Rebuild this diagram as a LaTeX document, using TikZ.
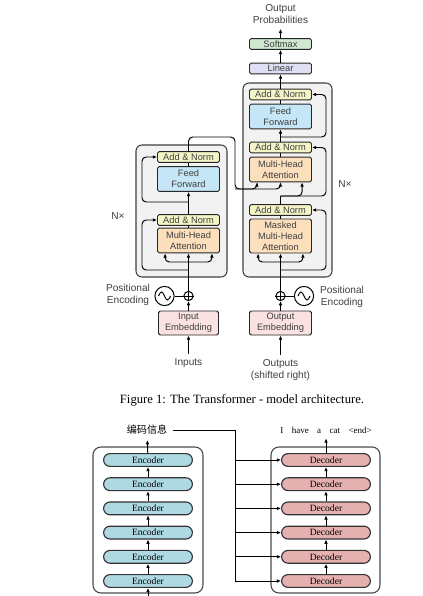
\documentclass[tikz,border=0pt]{standalone}
\usepackage{fontspec}
\setmainfont{Liberation Serif}
\setsansfont{Liberation Sans}
\newfontfamily\cjk{Noto Sans CJK SC}
\usetikzlibrary{arrows.meta,positioning}
\definecolor{bg}{HTML}{F2F2F2}
\definecolor{addc}{HTML}{F4F5C6}
\definecolor{ffc}{HTML}{C5E6F6}
\definecolor{attc}{HTML}{FCE0BD}
\definecolor{embc}{HTML}{FBE2E2}
\definecolor{linc}{HTML}{DEDFF2}
\definecolor{smc}{HTML}{CFE8CF}
\definecolor{encc}{HTML}{AED9E3}
\definecolor{decc}{HTML}{E5B0B0}

\begin{document}
\begin{tikzpicture}[x=.25mm,y=-.25mm,>={Latex[length=3pt,width=2.6pt]},line width=.7pt,
  blk/.style={draw=black!75,fill=bg,rounded corners=1.5mm,line width=.75pt},
  b/.style={draw=black!85,rounded corners=1.2pt,minimum width=15.5mm,minimum height=2.7mm,inner sep=0pt,align=center,font=\sffamily\fontsize{6.6}{7.6}\selectfont,text=black!75},
  an/.style={b,fill=addc},
  ff/.style={b,fill=ffc,minimum height=6.2mm},
  att/.style={b,fill=attc,minimum height=6.2mm},
  emb/.style={b,fill=embc,minimum height=6mm},
  lab/.style={align=center,font=\sffamily\fontsize{7.2}{8.6}\selectfont,text=black!75},
  pl/.style={draw,circle,minimum size=2.3mm,inner sep=0pt},
  wav/.style={draw,circle,minimum size=4.8mm,inner sep=0pt},
  enc/.style={draw=black!80,fill=encc,rounded corners=1.6mm,line width=.8pt,minimum width=22.2mm,minimum height=3.2mm,inner sep=0pt,font=\fontsize{6.8}{7}\selectfont},
  dec/.style={enc,fill=decc},
  tblk/.style={draw=black!70,rounded corners=2mm,line width=.8pt}]

\fill[white] (0,0) rectangle (422,596);
\useasboundingbox (0,0) rectangle (422,596);

% top: decoder stack
\node[blk,minimum width=22.25mm,minimum height=48.5mm] (dblk) at (287.5,180) {};
\node[lab] (prob) at (280.5,14) {Output\\Probabilities};
\node[b,fill=smc] (soft) at (280.5,44) {Softmax};
\node[b,fill=linc] (lin) at (280.5,68.5) {Linear};
\node[an] (an3) at (280.5,94.5) {Add \& Norm};
\node[ff] (ffd) at (280.5,116.5) {Feed\\Forward};
\node[an] (an2) at (280.5,147.5) {Add \& Norm};
\node[att] (mhad) at (280.5,169.5) {Multi-Head\\Attention};
\node[an] (an1) at (280.5,210) {Add \& Norm};
\node[att,minimum height=8.5mm] (mmha) at (280.5,236) {Masked\\Multi-Head\\Attention};
\node[emb] (outemb) at (280.5,323) {Output\\Embedding};
\node[pl] (pd) at (280.5,296) {};
\node[wav] (sd) at (304,296) {};
\node[lab] (ped) at (342,297) {Positional\\Encoding};
\node[lab,inner sep=3pt] (outp) at (280.5,370) {Outputs\\(shifted right)};
\node[lab] (nxd) at (345,184) {N×};

% top: encoder stack
\node[blk,minimum width=22.75mm,minimum height=33mm] (eblk) at (181.5,211) {};
\node[an] (ane2) at (188.5,157) {Add \& Norm};
\node[ff] (ffe) at (188.5,179) {Feed\\Forward};
\node[an] (ane1) at (188.5,220) {Add \& Norm};
\node[att] (mhae) at (188.5,240.5) {Multi-Head\\Attention};
\node[emb,minimum width=15mm] (inemb) at (188.5,323) {Input\\Embedding};
\node[pl] (pe) at (188.5,296) {};
\node[wav] (se) at (164.5,296) {};
\node[lab] (pee) at (128,295) {Positional\\Encoding};
\node[lab,inner sep=3pt] (inp) at (188.5,363) {Inputs};
\node[lab] (nxe) at (118,216) {N×};

\node[font=\fontsize{9}{10}\selectfont] (cap) at (242,400) {Figure 1: The Transformer - model architecture.};

\coordinate (dr) at (326,0);
\coordinate (el) at (142,0);
\coordinate (r3) at (280.5,137);
\coordinate (r2) at (280.5,196);
\coordinate (r1) at (280.5,262);
\coordinate (r0) at (280.5,270);
\coordinate (eo) at (235,189);
\coordinate (e2) at (188.5,202);
\coordinate (e1) at (188.5,262);
\coordinate (e0) at (188.5,270);

% plus and sine marks
\foreach \p in {pe,pd}
  \draw (\p.north) -- (\p.south) (\p.west) -- (\p.east);
\foreach \s in {se,sd}
  \draw (\s.center) ++(-6,0) sin ++(3,-4) cos ++(3,4) sin ++(3,4) cos ++(3,-4);

% decoder flow
\draw[->] (soft) -- (prob);
\draw[->] (lin) -- (soft);
\draw[->] (an3) -- (lin);
\draw (ffd) -- (an3);
\draw[->] (an2) -- (ffd);
\draw (mhad) -- (an2);
\draw (mmha) -- (an1);
\draw (an1) -- (r2);
\draw[->,rounded corners=3pt] (r3) -- (r3 -| dr) |- (an3);
\draw[->,rounded corners=3pt] (r2) -| ([xshift=5.4mm]mhad.south);
\draw[->,rounded corners=3pt] (r2) -- (r2 -| dr) |- (an2);
\draw[->,rounded corners=3pt] (r0) -- (r0 -| dr) |- (an1);
\draw[->] (pd) -- (mmha);
\draw[->,rounded corners=3pt] (r1) -| ([xshift=-5.6mm]mmha.south);
\draw[->,rounded corners=3pt] (r1) -| ([xshift=5.6mm]mmha.south);
\draw[->] (outemb) -- (pd);
\draw (sd) -- (pd);
\draw[->] (outp) -- (outemb);

% encoder flow
\draw (ffe) -- (ane2);
\draw[->] (ane1) -- (ffe);
\draw (mhae) -- (ane1);
\draw[->] (pe) -- (mhae);
\draw[->,rounded corners=3pt] (e2) -- (e2 -| el) |- (ane2);
\draw[->,rounded corners=3pt] (e0) -- (e0 -| el) |- (ane1);
\draw[->,rounded corners=3pt] (e1) -| ([xshift=-5.85mm]mhae.south);
\draw[->,rounded corners=3pt] (e1) -| ([xshift=5.85mm]mhae.south);
\draw[->] (inemb) -- (pe);
\draw (se) -- (pe);
\draw[->] (inp) -- (inemb);

% encoder output into decoder
\draw[->,rounded corners=3pt] (ane2) |- (eo |- r3) -- (eo) -| (mhad.south);
\draw[->,rounded corners=3pt] (eo) -| ([xshift=-5.9mm]mhad.south);

% bottom: stacked encoders and decoders
\node[tblk,minimum width=27.5mm,minimum height=36.5mm] (stk1) at (148,520) {};
\node[tblk,minimum width=27.25mm,minimum height=36.5mm] (stk2) at (325.5,520) {};
\foreach \i in {1,...,6}{
  \node[enc] (e\i) at (148,581-24.2*\i+24.2) {Encoder};
  \node[dec] (d\i) at (326,581-24.2*\i+24.2) {Decoder};
}
\foreach \i/\j in {1/2,2/3,3/4,4/5,5/6}{
  \draw[->] (e\i) -- (e\j);
  \draw[->] (d\i) -- (d\j);
}
\node[font=\cjk\fontsize{7.2}{8}\selectfont,inner sep=3.5pt] (code) at (147,430) {编码信息};
\node[font=\fontsize{6.4}{7}\selectfont] (words) at (326,430) {I\hspace{6pt}have\hspace{6pt}a\hspace{6pt}cat\hspace{6pt}<end>};
\coordinate (ev) at (235,430);
\coordinate (ein) at (148,597);
\draw[->] (e6) -- (code);
\draw[->] (d6) -- (words);
\draw[->] (ein) -- (e1);
\draw (code) -- (ev) -- (ev |- d1);
\foreach \i in {1,...,6}
  \draw[->] (ev |- d\i) -- (d\i);
\end{tikzpicture}
\end{document}
